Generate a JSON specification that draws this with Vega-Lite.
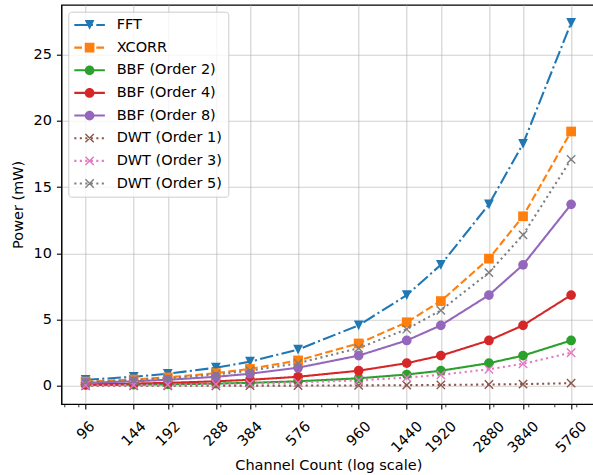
{
  "$schema": "https://vega.github.io/schema/vega-lite/v6.json",
  "autosize": "none",
  "width": 534,
  "height": 399.3,
  "padding": {"left": 61.3, "top": 4.7, "right": 0, "bottom": 71},
  "background": "white",
  "config": {
    "view": {"stroke": "#000000", "strokeWidth": 1.1},
    "font": "DejaVu Sans",
    "axis": {
      "labelFont": "DejaVu Sans", "labelFontSize": 14.5, "labelColor": "#000000",
      "titleFont": "DejaVu Sans", "titleFontSize": 14.5, "titleFontWeight": "normal", "titleColor": "#000000",
      "tickColor": "#000000", "tickWidth": 1.1, "tickSize": 4.9,
      "domainColor": "#000000", "domainWidth": 1.1,
      "gridColor": "#b0b0b0", "gridWidth": 1.1, "gridOpacity": 0.6,
      "labelPadding": 4.9
    }
  },
  "data": {"values": [
    {"n":96,"s":"FFT","p":0.457},{"n":144,"s":"FFT","p":0.685},{"n":192,"s":"FFT","p":0.913},{"n":288,"s":"FFT","p":1.37},{"n":384,"s":"FFT","p":1.827},{"n":576,"s":"FFT","p":2.74},{"n":960,"s":"FFT","p":4.567},{"n":1440,"s":"FFT","p":6.85},{"n":1920,"s":"FFT","p":9.133},{"n":2880,"s":"FFT","p":13.7},{"n":3840,"s":"FFT","p":18.27},{"n":5760,"s":"FFT","p":27.4},
    {"n":96,"s":"XCORR","p":0.32},{"n":144,"s":"XCORR","p":0.48},{"n":192,"s":"XCORR","p":0.64},{"n":288,"s":"XCORR","p":0.96},{"n":384,"s":"XCORR","p":1.28},{"n":576,"s":"XCORR","p":1.92},{"n":960,"s":"XCORR","p":3.2},{"n":1440,"s":"XCORR","p":4.8},{"n":1920,"s":"XCORR","p":6.4},{"n":2880,"s":"XCORR","p":9.6},{"n":3840,"s":"XCORR","p":12.8},{"n":5760,"s":"XCORR","p":19.2},
    {"n":96,"s":"BBF (Order 2)","p":0.057},{"n":144,"s":"BBF (Order 2)","p":0.086},{"n":192,"s":"BBF (Order 2)","p":0.114},{"n":288,"s":"BBF (Order 2)","p":0.171},{"n":384,"s":"BBF (Order 2)","p":0.228},{"n":576,"s":"BBF (Order 2)","p":0.343},{"n":960,"s":"BBF (Order 2)","p":0.571},{"n":1440,"s":"BBF (Order 2)","p":0.856},{"n":1920,"s":"BBF (Order 2)","p":1.142},{"n":2880,"s":"BBF (Order 2)","p":1.713},{"n":3840,"s":"BBF (Order 2)","p":2.283},{"n":5760,"s":"BBF (Order 2)","p":3.425},
    {"n":96,"s":"BBF (Order 4)","p":0.114},{"n":144,"s":"BBF (Order 4)","p":0.171},{"n":192,"s":"BBF (Order 4)","p":0.228},{"n":288,"s":"BBF (Order 4)","p":0.343},{"n":384,"s":"BBF (Order 4)","p":0.457},{"n":576,"s":"BBF (Order 4)","p":0.685},{"n":960,"s":"BBF (Order 4)","p":1.142},{"n":1440,"s":"BBF (Order 4)","p":1.713},{"n":1920,"s":"BBF (Order 4)","p":2.283},{"n":2880,"s":"BBF (Order 4)","p":3.425},{"n":3840,"s":"BBF (Order 4)","p":4.567},{"n":5760,"s":"BBF (Order 4)","p":6.85},
    {"n":96,"s":"BBF (Order 8)","p":0.228},{"n":144,"s":"BBF (Order 8)","p":0.343},{"n":192,"s":"BBF (Order 8)","p":0.457},{"n":288,"s":"BBF (Order 8)","p":0.685},{"n":384,"s":"BBF (Order 8)","p":0.913},{"n":576,"s":"BBF (Order 8)","p":1.37},{"n":960,"s":"BBF (Order 8)","p":2.283},{"n":1440,"s":"BBF (Order 8)","p":3.425},{"n":1920,"s":"BBF (Order 8)","p":4.567},{"n":2880,"s":"BBF (Order 8)","p":6.85},{"n":3840,"s":"BBF (Order 8)","p":9.133},{"n":5760,"s":"BBF (Order 8)","p":13.7},
    {"n":96,"s":"DWT (Order 1)","p":0.003},{"n":144,"s":"DWT (Order 1)","p":0.005},{"n":192,"s":"DWT (Order 1)","p":0.007},{"n":288,"s":"DWT (Order 1)","p":0.01},{"n":384,"s":"DWT (Order 1)","p":0.013},{"n":576,"s":"DWT (Order 1)","p":0.02},{"n":960,"s":"DWT (Order 1)","p":0.033},{"n":1440,"s":"DWT (Order 1)","p":0.05},{"n":1920,"s":"DWT (Order 1)","p":0.067},{"n":2880,"s":"DWT (Order 1)","p":0.1},{"n":3840,"s":"DWT (Order 1)","p":0.133},{"n":5760,"s":"DWT (Order 1)","p":0.2},
    {"n":96,"s":"DWT (Order 3)","p":0.042},{"n":144,"s":"DWT (Order 3)","p":0.063},{"n":192,"s":"DWT (Order 3)","p":0.083},{"n":288,"s":"DWT (Order 3)","p":0.125},{"n":384,"s":"DWT (Order 3)","p":0.167},{"n":576,"s":"DWT (Order 3)","p":0.25},{"n":960,"s":"DWT (Order 3)","p":0.417},{"n":1440,"s":"DWT (Order 3)","p":0.625},{"n":1920,"s":"DWT (Order 3)","p":0.833},{"n":2880,"s":"DWT (Order 3)","p":1.25},{"n":3840,"s":"DWT (Order 3)","p":1.667},{"n":5760,"s":"DWT (Order 3)","p":2.5},
    {"n":96,"s":"DWT (Order 5)","p":0.285},{"n":144,"s":"DWT (Order 5)","p":0.428},{"n":192,"s":"DWT (Order 5)","p":0.57},{"n":288,"s":"DWT (Order 5)","p":0.855},{"n":384,"s":"DWT (Order 5)","p":1.14},{"n":576,"s":"DWT (Order 5)","p":1.71},{"n":960,"s":"DWT (Order 5)","p":2.85},{"n":1440,"s":"DWT (Order 5)","p":4.275},{"n":1920,"s":"DWT (Order 5)","p":5.7},{"n":2880,"s":"DWT (Order 5)","p":8.55},{"n":3840,"s":"DWT (Order 5)","p":11.4},{"n":5760,"s":"DWT (Order 5)","p":17.1}
  ]},
  "resolve": {"axis": {"x": "independent"}},
  "layer": [
    {
      "transform": [{"filter": "datum.p < -100"}],
      "mark": {"type": "point", "filled": true, "size": 69.4, "opacity": 1, "fillOpacity": 1},
      "encoding": {
        "x": {"field": "n", "type": "quantitative",
              "scale": {"type": "log", "domain": [78.2, 7063], "nice": false},
              "axis": {"orient": "bottom", "values": [80,90,200,300,400,500,600,700,800,900,2000,3000,4000,5000,6000,7000],
                       "labels": false, "grid": false, "domain": false, "tickSize": 2.8, "tickWidth": 0.8, "title": null}},
        "y": {"field": "p", "type": "quantitative",
              "scale": {"domain": [-1.37, 28.77], "nice": false, "zero": false},
              "axis": {"values": [0,5,10,15,20,25], "title": "Power (mW)", "grid": true, "titlePadding": 8}},
        "fill": {"field": "s", "type": "nominal",
                 "scale": {"domain": ["FFT","XCORR","BBF (Order 2)","BBF (Order 4)","BBF (Order 8)","DWT (Order 1)","DWT (Order 3)","DWT (Order 5)"],
                           "range": ["#1f77b4","#ff7f0e","#2ca02c","#d62728","#9467bd","#8c564b","#e377c2","#7f7f7f"]},
                 "legend": {
                   "title": null, "orient": "top-left", "offset": 7, "padding": 6,
                   "fillColor": "rgba(255,255,255,0.8)", "strokeColor": "#cccccc", "cornerRadius": 3,
                   "symbolSize": 69.4, "symbolStrokeWidth": 0, "symbolOpacity": 1, "symbolOffset": 8.05, "labelOffset": 19.8,
                   "rowPadding": 7.65, "labelFontSize": 14.5, "labelFont": "DejaVu Sans", "labelColor": "#000000",
                   "labelLimit": 300
                 }},
        "shape": {"field": "s", "type": "nominal",
                  "scale": {"domain": ["FFT","XCORR","BBF (Order 2)","BBF (Order 4)","BBF (Order 8)","DWT (Order 1)","DWT (Order 3)","DWT (Order 5)"],
                            "range": [
                              "M-3.67,-0.25H-0.48V0.25H-3.67ZM0.31,-0.25H0.82V0.25H0.31ZM1.61,-0.25H3.67V0.25H1.61ZM0,1.167L-1.167,-1.167L1.167,-1.167Z",
                              "M-3.67,-0.25H-1.82V0.25H-3.67ZM-1.03,-0.25H0.82V0.25H-1.03ZM1.61,-0.25H3.46V0.25H1.61ZM-1.167,-1.167H1.167V1.167H-1.167Z",
                              "M-3.67,-0.25H3.67V0.25H-3.67ZM1.167,0A1.167,1.167,0,1,1,-1.167,0A1.167,1.167,0,1,1,1.167,0Z",
                              "M-3.67,-0.25H3.67V0.25H-3.67ZM1.167,0A1.167,1.167,0,1,1,-1.167,0A1.167,1.167,0,1,1,1.167,0Z",
                              "M-3.67,-0.25H3.67V0.25H-3.67ZM1.167,0A1.167,1.167,0,1,1,-1.167,0A1.167,1.167,0,1,1,1.167,0Z",
                              "M-3.67,-0.25H-3.17V0.25H-3.67ZM-2.35,-0.25H-1.85V0.25H-2.35ZM-1.03,-0.25H-0.53V0.25H-1.03ZM0.29,-0.25H0.79V0.25H0.29ZM1.61,-0.25H2.11V0.25H1.61ZM2.93,-0.25H3.43V0.25H2.93ZM-0.881,-1.119L1.119,0.881L0.881,1.119L-1.119,-0.881ZM-1.119,0.881L0.881,-1.119L1.119,-0.881L-0.881,1.119Z",
                              "M-3.67,-0.25H-3.17V0.25H-3.67ZM-2.35,-0.25H-1.85V0.25H-2.35ZM-1.03,-0.25H-0.53V0.25H-1.03ZM0.29,-0.25H0.79V0.25H0.29ZM1.61,-0.25H2.11V0.25H1.61ZM2.93,-0.25H3.43V0.25H2.93ZM-0.881,-1.119L1.119,0.881L0.881,1.119L-1.119,-0.881ZM-1.119,0.881L0.881,-1.119L1.119,-0.881L-0.881,1.119Z",
                              "M-3.67,-0.25H-3.17V0.25H-3.67ZM-2.35,-0.25H-1.85V0.25H-2.35ZM-1.03,-0.25H-0.53V0.25H-1.03ZM0.29,-0.25H0.79V0.25H0.29ZM1.61,-0.25H2.11V0.25H1.61ZM2.93,-0.25H3.43V0.25H2.93ZM-0.881,-1.119L1.119,0.881L0.881,1.119L-1.119,-0.881ZM-1.119,0.881L0.881,-1.119L1.119,-0.881L-0.881,1.119Z"
                            ]}}
      }
    },
    {
      "mark": {"type": "line", "strokeWidth": 2.08, "strokeCap": "butt"},
      "encoding": {
        "x": {"field": "n", "type": "quantitative",
              "axis": {"orient": "bottom", "values": [96,144,192,288,384,576,960,1440,1920,2880,3840,5760],
                       "format": "d",
                       "title": "Channel Count (log scale)", "labelAngle": -45,
                       "labelAlign": "right", "labelBaseline": "middle", "labelPadding": 15.1,
                       "labelOffset": {"condition": [{"test": "length(datum.label) == 2", "value": 6.5}, {"test": "length(datum.label) == 3", "value": 9.8}], "value": 13.1},
                       "labelFlush": false, "labelOverlap": false, "titlePadding": 4, "grid": true}},
        "y": {"field": "p", "type": "quantitative"},
        "color": {"field": "s", "type": "nominal",
                  "scale": {"domain": ["DWT (Order 5)","DWT (Order 3)","DWT (Order 1)","BBF (Order 8)","BBF (Order 4)","BBF (Order 2)","XCORR","FFT"],
                            "range": ["#7f7f7f","#e377c2","#8c564b","#9467bd","#d62728","#2ca02c","#ff7f0e","#1f77b4"]},
                  "legend": null},
        "strokeDash": {"field": "s", "type": "nominal",
                       "scale": {"domain": ["DWT (Order 5)","DWT (Order 3)","DWT (Order 1)","BBF (Order 8)","BBF (Order 4)","BBF (Order 2)","XCORR","FFT"],
                                 "range": [[2.1,3.4],[2.1,3.4],[2.1,3.4],[1,0],[1,0],[1,0],[7.7,3.3],[13.3,3.3,2.1,3.3]]},
                       "legend": null}
      }
    },
    {
      "transform": [{"filter": "datum.s === 'FFT'"}],
      "mark": {"type": "point", "filled": true, "opacity": 1, "size": 94.5, "strokeWidth": 0, "shape": "M0,1L-1,-1L1,-1Z"},
      "encoding": {
        "x": {"field": "n", "type": "quantitative", "axis": null},
        "y": {"field": "p", "type": "quantitative"},
        "color": {"field": "s", "type": "nominal", "legend": null}
      }
    },
    {
      "transform": [{"filter": "datum.s === 'XCORR'"}],
      "mark": {"type": "point", "filled": true, "opacity": 1, "size": 94.5, "strokeWidth": 0, "shape": "M-1,-1H1V1H-1Z"},
      "encoding": {
        "x": {"field": "n", "type": "quantitative", "axis": null},
        "y": {"field": "p", "type": "quantitative"},
        "color": {"field": "s", "type": "nominal", "legend": null}
      }
    },
    {
      "transform": [{"filter": "indexof(datum.s, 'BBF') === 0"}],
      "mark": {"type": "point", "filled": true, "opacity": 1, "size": 94.5, "strokeWidth": 0, "shape": "circle"},
      "encoding": {
        "x": {"field": "n", "type": "quantitative", "axis": null},
        "y": {"field": "p", "type": "quantitative"},
        "color": {"field": "s", "type": "nominal", "legend": null}
      }
    },
    {
      "transform": [{"filter": "indexof(datum.s, 'DWT') === 0"}],
      "mark": {"type": "point", "filled": true, "opacity": 1, "size": 69.4, "strokeWidth": 0, "shape": "M-0.881,-1.119L1.119,0.881L0.881,1.119L-1.119,-0.881ZM-1.119,0.881L0.881,-1.119L1.119,-0.881L-0.881,1.119Z"},
      "encoding": {
        "x": {"field": "n", "type": "quantitative", "axis": null},
        "y": {"field": "p", "type": "quantitative"},
        "color": {"field": "s", "type": "nominal", "legend": null}
      }
    }
  ]
}
